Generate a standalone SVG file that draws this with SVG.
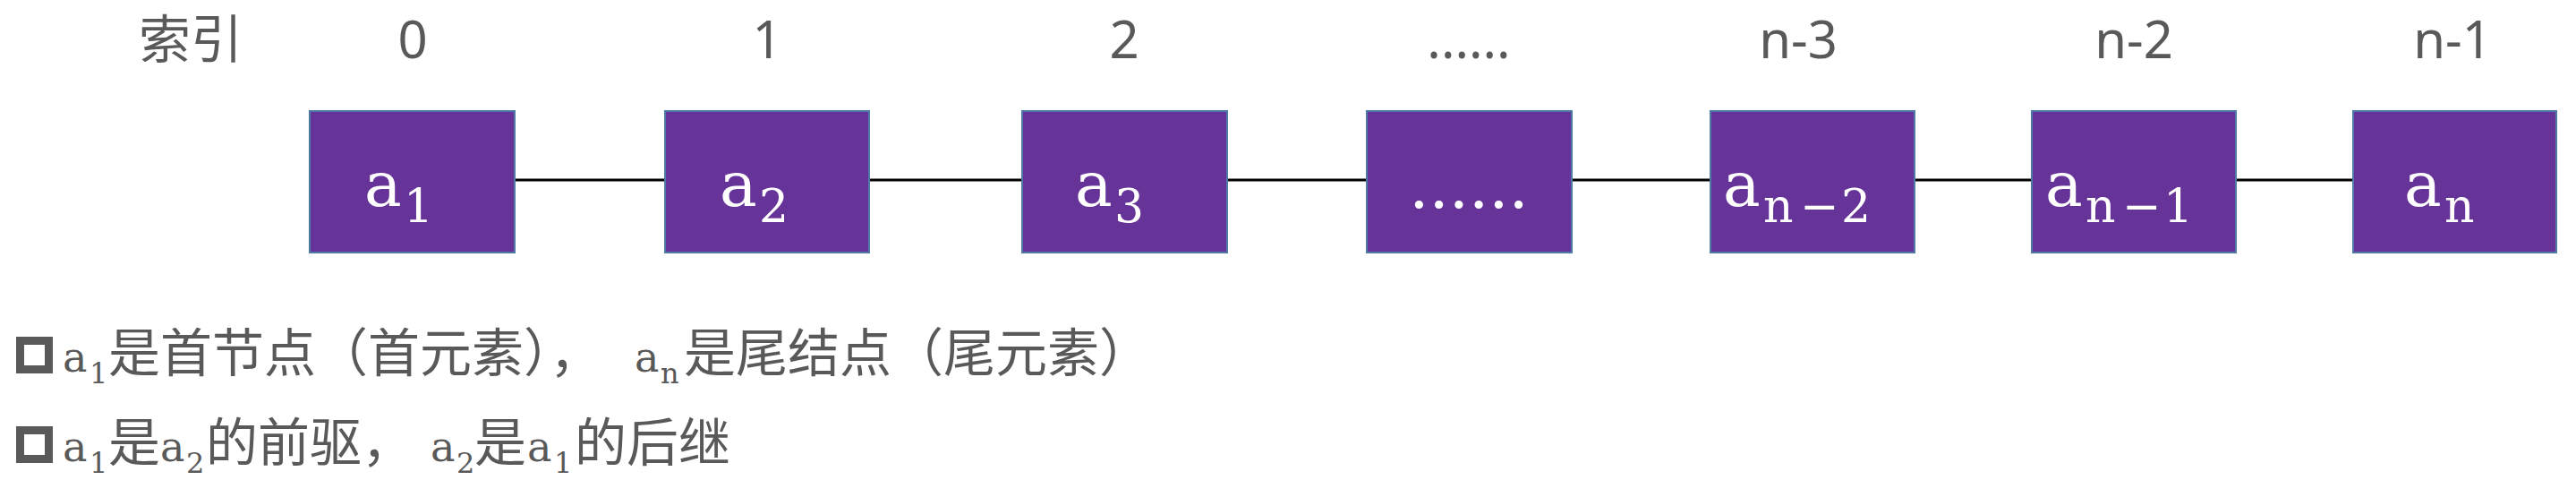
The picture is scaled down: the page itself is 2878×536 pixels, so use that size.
<svg xmlns="http://www.w3.org/2000/svg" width="2878" height="536" viewBox="0 0 2878 536">
<style>
.box{fill:#663399;stroke:#4F7AA8;stroke-width:2}
.bt{font-family:"DejaVu Serif",serif;fill:#ffffff}
.bm{font-size:70px}
.bs{font-size:52px}
.idx{font-family:"Noto Sans","Noto Sans CJK SC",sans-serif;font-size:58px;fill:#595959}
.cjk{font-family:"Noto Sans CJK SC",sans-serif;font-size:58px;fill:#595959}
.m{font-family:"DejaVu Serif",serif;fill:#595959}
.mm{font-size:46px}
.ms{font-size:32px}
.chk{fill:none;stroke:#595959;stroke-width:9}
.ln{stroke:#000000;stroke-width:3}
</style>
<rect width="2878" height="536" fill="#ffffff"/>
<g id="labels">
<text class="idx" x="155" y="65">索引</text>
<text class="idx" x="461" y="65" text-anchor="middle">0</text>
<text class="idx" x="857" y="65" text-anchor="middle">1</text>
<text class="idx" x="1256" y="65" text-anchor="middle">2</text>
<text class="idx" x="1641" y="65" text-anchor="middle">......</text>
<text class="idx" x="2009" y="65" text-anchor="middle">n-3</text>
<text class="idx" x="2384" y="65" text-anchor="middle">n-2</text>
<text class="idx" x="2740" y="65" text-anchor="middle">n-1</text>
</g>
<g id="connectors">
<line class="ln" x1="575" y1="201" x2="743" y2="201"/>
<line class="ln" x1="971" y1="201" x2="1142" y2="201"/>
<line class="ln" x1="1371" y1="201" x2="1527" y2="201"/>
<line class="ln" x1="1756" y1="201" x2="1911" y2="201"/>
<line class="ln" x1="2139" y1="201" x2="2270" y2="201"/>
<line class="ln" x1="2498" y1="201" x2="2629" y2="201"/>
</g>
<g id="node1">
<rect class="box" x="346" y="124" width="229" height="158"/>
<text class="bt bm" x="407" y="230">a</text>
<text class="bt bs" x="451" y="248">1</text>
</g>
<g id="node2">
<rect class="box" x="743" y="124" width="228" height="158"/>
<text class="bt bm" x="804" y="230">a</text>
<text class="bt bs" x="848" y="248">2</text>
</g>
<g id="node3">
<rect class="box" x="1142" y="124" width="229" height="158"/>
<text class="bt bm" x="1201" y="230">a</text>
<text class="bt bs" x="1245" y="248">3</text>
</g>
<g id="node4">
<rect class="box" x="1527" y="124" width="229" height="158"/>
<text class="bt bm" x="1641" y="232" text-anchor="middle">......</text>
</g>
<g id="node5">
<rect class="box" x="1911" y="124" width="228" height="158"/>
<text class="bt bm" x="1925" y="230">a</text>
<text class="bt bs" y="248"><tspan x="1970">n</tspan><tspan x="2011">−</tspan><tspan x="2057">2</tspan></text>
</g>
<g id="node6">
<rect class="box" x="2270" y="124" width="228" height="158"/>
<text class="bt bm" x="2285" y="230">a</text>
<text class="bt bs" y="248"><tspan x="2330">n</tspan><tspan x="2371">−</tspan><tspan x="2417">1</tspan></text>
</g>
<g id="node7">
<rect class="box" x="2629" y="124" width="227" height="158"/>
<text class="bt bm" x="2686" y="230">a</text>
<text class="bt bs" x="2731" y="248">n</text>
</g>
<g id="notes">
<rect class="chk" x="22.5" y="380.5" width="32" height="32"/>
<text class="m mm" x="70" y="415">a</text>
<text class="m ms" x="100" y="428">1</text>
<text class="cjk" x="121" y="415">是首节点（首元素），</text>
<text class="m mm" x="709" y="415">a</text>
<text class="m ms" x="738" y="428">n</text>
<text class="cjk" x="764" y="415">是尾结点（尾元素）</text>
<rect class="chk" x="22.5" y="480.5" width="32" height="32"/>
<text class="m mm" x="70" y="515">a</text>
<text class="m ms" x="100" y="528">1</text>
<text class="cjk" x="121" y="515">是</text>
<text class="m mm" x="179" y="515">a</text>
<text class="m ms" x="208" y="528">2</text>
<text class="cjk" x="230" y="515">的前驱，</text>
<text class="m mm" x="481" y="515">a</text>
<text class="m ms" x="510" y="528">2</text>
<text class="cjk" x="530" y="515">是</text>
<text class="m mm" x="589" y="515">a</text>
<text class="m ms" x="619" y="528">1</text>
<text class="cjk" x="642" y="515">的后继</text>
</g>
</svg>
